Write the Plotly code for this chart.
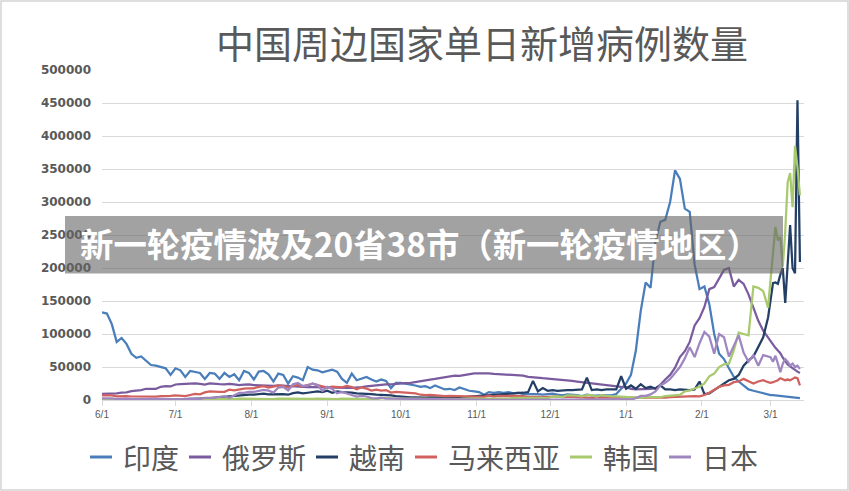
import pandas as pd
import plotly.graph_objects as go

# ---------------- data (daily new cases, thousands) ----------------
dates = list(pd.date_range("2021-06-01", "2022-02-28", freq="2D")) + \
        list(pd.date_range("2022-03-01", "2022-03-13", freq="D"))

names = ["印度", "俄罗斯", "越南", "马来西亚", "韩国", "日本"]

india = [133, 131, 115, 88, 94, 85, 70, 64, 66, 60, 53, 52, 50, 48, 38,
         48, 45, 35, 44, 43, 41, 32, 41, 40, 32, 41, 35, 39, 30, 44, 41,
         31, 43, 44, 39, 28, 40, 38, 25, 36, 34, 30, 50, 46, 45, 42,
         44, 46, 43, 32, 26, 40, 30, 33, 35, 31, 28, 31, 29, 18, 26,
         26, 25, 24, 22, 20, 21, 18, 22, 19, 16, 17, 15, 19, 16, 14, 13,
         12, 8, 12, 11, 12, 11, 12, 10, 11, 9, 9, 10, 9, 8, 9,
         9.5, 8, 7, 8.5, 8.5, 7.5, 6, 8, 7, 6.5, 7.5, 7, 7, 9, 17,
         25, 38, 75, 135, 178, 170, 240, 270, 273, 300, 348, 335, 290, 285, 205,
         168, 172, 145, 100, 70, 62, 48, 35, 28, 22, 16, 14, 12, 10, 8,
         7.5, 7.5, 7, 6.5, 6, 5.5, 5, 4.6, 4.5, 4.2, 3.8, 3.6, 3]

russia = [9.3, 9.5, 9.3, 10, 11, 11.5, 13.5, 14, 15, 17, 17.5, 17, 20, 21, 20.5,
          23.5, 24, 24.5, 24, 25, 24.5, 23.5, 25, 25, 24, 23.8, 24.3, 23.5, 22.5, 23.3, 23.5,
          22.5, 22, 22.5, 22, 21.5, 22, 21.5, 20.5, 21, 20.5, 20, 19.5, 19.5, 19.3, 18.5,
          18.5, 18.2, 17.5, 17.8, 18.2, 18.4, 18.5, 19.5, 20.5, 21.5, 21.5, 22.5, 23.5, 23.5, 24.5,
          25, 25.5, 26, 27.5, 29, 29.5, 31, 32, 33.5, 34.5, 36, 37, 36.5, 38, 40, 40.5,
          40.5, 41, 40.5, 39.5, 39, 39.5, 38, 37.5, 37.5, 37, 35, 34, 33.5, 33, 32.5,
          32, 31, 30, 29.5, 29, 28, 27, 26, 25, 24, 23, 22, 21, 20.5, 20,
          19.5, 17, 16, 16, 16.5, 17, 18, 23, 31, 38, 49, 65, 74, 88, 113,
          124, 141, 168, 171, 183, 197, 200, 172, 182, 176, 160, 140, 120, 105, 94,
          90, 84, 79, 75, 71, 64, 58, 54, 51, 48, 45, 43, 41]

vietnam = [0.2, 0.15, 0.2, 0.3, 0.25, 0.4, 0.3, 0.35, 0.4, 0.4, 0.5, 0.4, 0.5, 0.6, 0.7,
           0.9, 1.0, 1.2, 1.4, 1.9, 2.4, 2.5, 2.8, 3.4, 4.0, 5.0, 5.5, 6.0, 7.3, 8.0, 8.2,
           8.0, 8.5, 9.5, 8.5, 8.7, 9.3, 9.0, 8.0, 10.5, 11.5, 10.0, 11.0, 11.5, 13.0, 12.0,
           14, 11, 13, 12, 12, 11, 10, 10, 9, 9, 8, 8, 7.5, 7, 6,
           5, 4.5, 4, 4, 3.5, 3.5, 3.8, 3.5, 3.5, 3.4, 3.7, 3.8, 3.8, 4.5, 5.0, 5.5,
           6.5, 7, 7, 7, 8, 9, 9.5, 10, 10, 11, 12, 29, 13, 18, 14,
           15, 14, 15, 15, 15, 15, 16, 34, 15, 16, 15, 16, 16, 16, 36,
           17, 22, 17, 24, 18, 20, 17, 22, 16, 16, 15, 16, 15, 15, 16,
           28, 9, 10, 15, 20, 25, 30, 32, 38, 52, 60, 66, 80, 95, 125,
           150, 177, 178, 176, 190, 200, 147, 205, 265, 200, 192, 454, 209]

malaysia = [7.1, 7.6, 7.0, 5.6, 6.2, 5.8, 5.3, 5.2, 5.9, 5.3, 4.6, 5.2, 5.9, 5.6, 6.4,
            6.9, 6.7, 6.0, 7.6, 9.2, 8.5, 11.6, 13.2, 12.5, 12.4, 12.4, 15.6, 14.5, 16.1, 17.2, 17.8,
            17.8, 19.8, 20.9, 18.7, 19.9, 21.7, 21.4, 19.0, 21.4, 22.9, 20.6, 22.6, 24.6, 22.6, 20.6,
            18.8, 20.4, 19.8, 19.3, 21.2, 19.7, 16.1, 19.2, 17.3, 14.3, 15.8, 14.2, 15.0, 11.3, 12.4,
            11.9, 10.9, 10.4, 9.9, 8.0, 7.3, 7.9, 7.4, 6.7, 5.7, 6.4, 6.1, 5.8, 5.6, 5.3, 4.8,
            4.2, 4.9, 6.7, 5.2, 6.3, 6.3, 6.4, 6.3, 5.4, 5.7, 4.8, 5.4, 4.9, 4.3, 4.6,
            5.4, 5.5, 4.4, 5.1, 5.0, 4.4, 3.8, 3.7, 3.4, 3.7, 3.7, 3.6, 3.0, 3.2, 3.5,
            3.4, 2.9, 3.1, 3.0, 3.2, 3.7, 3.8, 3.9, 3.7, 4.4, 4.8, 5.4, 5.2, 5.5, 5.9,
            5.6, 7.5, 11, 16, 20, 22, 23, 27, 28, 32, 28, 25, 28, 30, 27,
            26, 27, 28, 30, 33, 31, 30, 31, 30, 32, 34, 33, 22]

korea = [0.5, 0.6, 0.7, 0.5, 0.6, 0.5, 0.45, 0.55, 0.5, 0.4, 0.4, 0.6, 0.65, 0.6, 0.8,
         0.8, 0.8, 0.7, 1.2, 1.3, 1.1, 1.6, 1.6, 1.4, 1.3, 1.8, 1.6, 1.3, 1.9, 1.7, 1.4,
         1.2, 1.7, 1.7, 1.4, 1.5, 2.0, 1.9, 1.4, 2.1, 1.9, 1.6, 1.5, 1.8, 1.9, 1.5,
         2.0, 1.7, 1.4, 2.0, 1.9, 1.8, 1.4, 2.0, 1.9, 1.7, 1.0, 2.4, 3.2, 2.4, 2.3,
         2.5, 2.1, 1.6, 2.4, 2.0, 1.3, 1.9, 1.7, 1.4, 1.3, 1.4, 1.4, 1.3, 2.1, 2.1, 1.7,
         1.6, 2.3, 2.2, 1.7, 2.4, 2.4, 2.0, 3.2, 3.3, 3.2, 2.8, 3.9, 3.9, 3.3, 3.0,
         5.1, 5.3, 4.3, 7.1, 7.0, 6.7, 5.5, 7.4, 7.3, 5.2, 7.5, 6.2, 5.4, 5.4, 5.0,
         4.4, 4.0, 4.4, 3.3, 4.5, 4.5, 4.2, 4.2, 5.8, 6.6, 6.8, 7.6, 13, 14.5, 17.5,
         20, 25, 36, 40, 50, 54, 55, 75, 102, 100, 98, 172, 170, 165, 140,
         182, 225, 262, 242, 247, 202, 255, 330, 344, 292, 385, 353, 310]

japan = [2.6, 2.8, 2.4, 1.4, 2.0, 1.9, 1.4, 1.8, 1.5, 1.3, 1.0, 1.7, 1.6, 1.4, 1.6,
         1.8, 1.8, 1.0, 2.2, 2.2, 1.5, 3.2, 3.4, 3.1, 4.9, 5.4, 3.4, 7.6, 10.7, 10.7, 12.3,
         12.3, 14.2, 15.3, 14.1, 11.2, 18.9, 19.8, 14.4, 23.9, 25.8, 21.4, 21.6, 24.9, 22.7, 13.7,
         20.0, 16.7, 10.1, 12.4, 9.8, 7.1, 5.2, 6.2, 5.3, 3.0, 2.5, 3.6, 2.1, 2.1, 2.0,
         1.6, 1.1, 0.95, 0.9, 0.8, 0.6, 0.5, 0.5, 0.4, 0.3, 0.3, 0.3, 0.3, 0.25, 0.2, 0.2,
         0.15, 0.2, 0.2, 0.1, 0.2, 0.2, 0.15, 0.1, 0.15, 0.1, 0.1, 0.1, 0.1, 0.1, 0.15,
         0.15, 0.15, 0.1, 0.15, 0.2, 0.15, 0.15, 0.2, 0.25, 0.2, 0.3, 0.3, 0.3, 0.4, 0.5,
         0.5, 0.8, 2.6, 6.2, 6.4, 8.5, 13, 22, 26, 32, 41, 50, 63, 80, 65,
         86, 103, 96, 70, 100, 95, 66, 82, 98, 72, 58, 68, 52, 68, 66,
         65, 58, 67, 55, 42, 55, 62, 58, 52, 55, 50, 52, 47]

series = [india, russia, vietnam, malaysia, korea, japan]
UNIT = 1000

tick_dates = ["2021-06-01", "2021-07-01", "2021-08-01", "2021-09-01", "2021-10-01",
              "2021-11-01", "2021-12-01", "2022-01-01", "2022-02-01", "2022-03-01"]
tick_labels = ["6/1", "7/1", "8/1", "9/1", "10/1", "11/1", "12/1", "1/1", "2/1", "3/1"]

title_text = "中国周边国家单日新增病例数量"
banner_text = "新一轮疫情波及20省38市（新一轮疫情地区）"

# ---------------- style ----------------
colors = ["#4A7EBB", "#7A5C9E", "#243F66", "#D0615E", "#A8C96E", "#9E87C0"]
GREY = "#595959"
GRID = "#d9d9d9"
CJK = "Noto Sans CJK SC"

W, H = 849, 491
L, R, T, B = 102, 45, 70, 91
PW, PH = W - L - R, H - T - B


def xp(px):
    return (px - L) / PW


def yp(py):
    return (H - B - py) / PH


fig = go.Figure()
for name, vals, col in zip(names, series, colors):
    fig.add_trace(go.Scatter(
        x=dates, y=[v * UNIT for v in vals], mode="lines", name=name,
        line=dict(color=col, width=2.25), showlegend=False,
        hoverinfo="x+y+name"))

shapes = []
annotations = []

# outer frame
shapes.append(dict(type="rect", xref="paper", yref="paper",
                   x0=xp(1), x1=xp(848), y0=yp(1), y1=yp(490),
                   line=dict(color="#d4d4d4", width=1.5), fillcolor="rgba(0,0,0,0)",
                   layer="above"))

# title
annotations.append(dict(text=title_text, xref="paper", yref="paper",
                        x=xp(481.5), y=yp(42), xanchor="center", yanchor="middle",
                        showarrow=False, font=dict(family=CJK, size=38, color=GREY)))

# custom legend
lx = 90
ly = 457
LEG_FONT = 28
for name, col in zip(names, colors):
    shapes.append(dict(type="line", xref="paper", yref="paper",
                       x0=xp(lx), x1=xp(lx + 22), y0=yp(ly), y1=yp(ly),
                       line=dict(color=col, width=3)))
    tx = lx + 22 + 9
    annotations.append(dict(text=name, xref="paper", yref="paper",
                            x=xp(tx), y=yp(ly), xanchor="left", yanchor="middle",
                            showarrow=False,
                            font=dict(family=CJK, size=LEG_FONT, color=GREY)))
    lx = tx + LEG_FONT * len(name) + 12

# overlay banner
shapes.append(dict(type="rect", xref="paper", yref="paper",
                   x0=xp(65), x1=xp(783), y0=yp(273.5), y1=yp(216),
                   fillcolor="rgba(100,100,100,0.6)", line=dict(width=0),
                   layer="above"))
annotations.append(dict(text=banner_text, xref="paper", yref="paper",
                        x=xp(78), y=yp(242), xanchor="left", yanchor="middle",
                        showarrow=False,
                        font=dict(family=CJK, size=33.4, color="white", weight="bold")))

fig.update_layout(
    width=W, height=H,
    margin=dict(l=L, r=R, t=T, b=B, pad=0),
    paper_bgcolor="white", plot_bgcolor="white",
    showlegend=False,
    shapes=shapes, annotations=annotations,
    xaxis=dict(type="date", range=["2021-06-01", "2022-03-14 16:00"],
               tickvals=tick_dates, ticktext=tick_labels,
               tickfont=dict(family="Liberation Sans", size=10, color=GREY),
               showgrid=False, zeroline=False,
               showline=True, linecolor=GRID, linewidth=1,
               ticks="outside", ticklen=5, tickcolor=GRID, tickwidth=1),
    yaxis=dict(range=[0, 500000], dtick=50000, tickformat="d",
               tickfont=dict(family="DejaVu Sans", size=12, color=GREY, weight="bold"),
               ticklabelstandoff=10,
               showgrid=True, gridcolor=GRID, gridwidth=1,
               zeroline=False, showline=False, ticks=""),
)

fig.write_html("out.html")
